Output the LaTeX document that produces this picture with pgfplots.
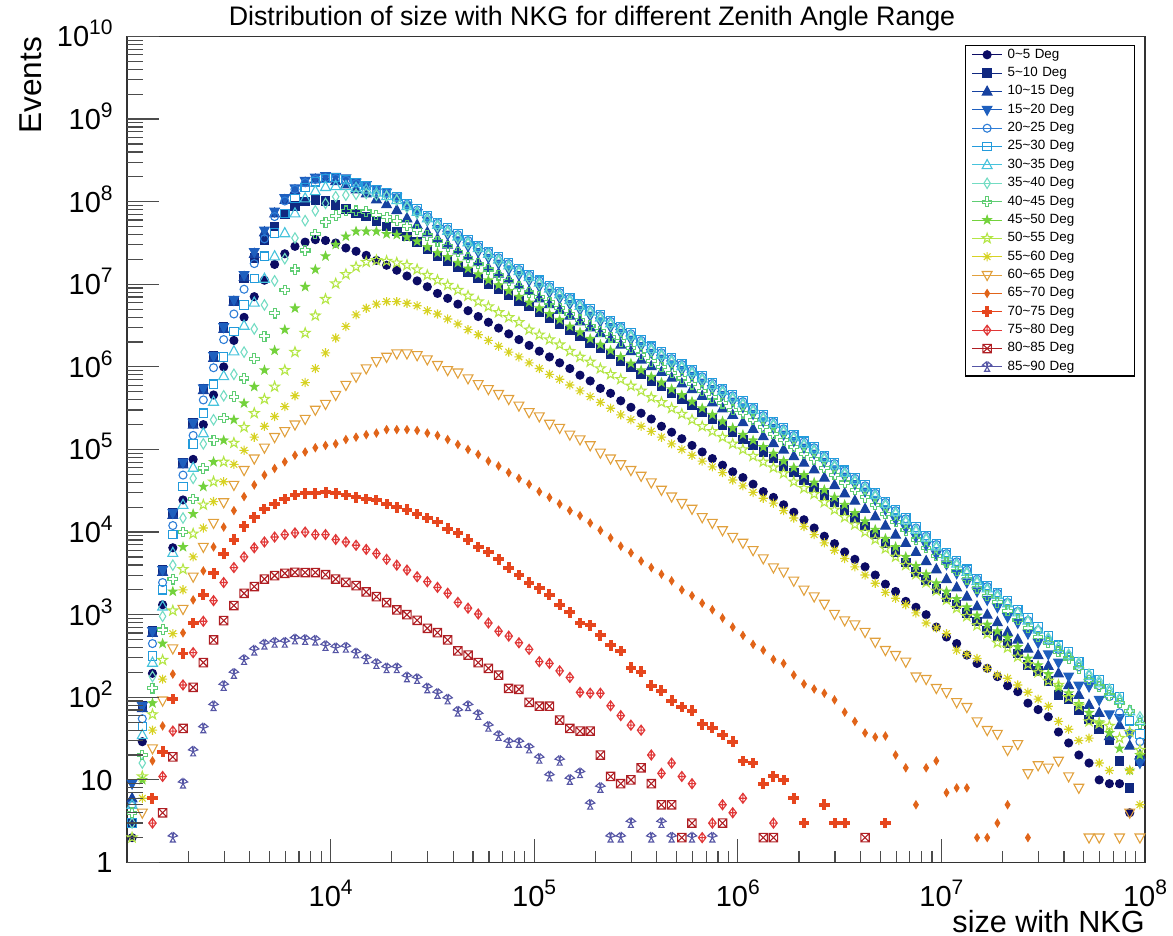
\documentclass[border=0pt]{standalone}
\usepackage{fontspec}
\setmainfont{Liberation Sans}
\usepackage{pgfplots}
\usepackage{pgfplotstable}
\pgfplotsset{compat=1.18}

\definecolor{c1}{RGB}{12,12,100}
\definecolor{c2}{RGB}{16,40,128}
\definecolor{c3}{RGB}{22,65,160}
\definecolor{c4}{RGB}{30,95,190}
\definecolor{c5}{RGB}{45,125,215}
\definecolor{c6}{RGB}{35,155,220}
\definecolor{c7}{RGB}{70,195,220}
\definecolor{c8}{RGB}{115,220,195}
\definecolor{c9}{RGB}{95,205,115}
\definecolor{c10}{RGB}{115,210,60}
\definecolor{c11}{RGB}{180,230,70}
\definecolor{c12}{RGB}{215,210,35}
\definecolor{c13}{RGB}{225,160,60}
\definecolor{c14}{RGB}{225,100,25}
\definecolor{c15}{RGB}{230,70,30}
\definecolor{c16}{RGB}{225,55,55}
\definecolor{c17}{RGB}{175,30,35}
\definecolor{c18}{RGB}{85,85,165}

\def\mk#1#2{\pgfqpoint{#1\pgfplotmarksize}{#2\pgfplotmarksize}}
\pgfdeclareplotmark{rtri}{\pgfpathmoveto{\mk{0}{1.05}}\pgfpathlineto{\mk{0.95}{-0.7}}\pgfpathlineto{\mk{-0.95}{-0.7}}\pgfpathclose\pgfusepathqstroke}
\pgfdeclareplotmark{rtri*}{\pgfpathmoveto{\mk{0}{1.05}}\pgfpathlineto{\mk{0.95}{-0.7}}\pgfpathlineto{\mk{-0.95}{-0.7}}\pgfpathclose\pgfusepathqfillstroke}
\pgfdeclareplotmark{rtrid}{\pgfpathmoveto{\mk{0}{-1.05}}\pgfpathlineto{\mk{0.95}{0.7}}\pgfpathlineto{\mk{-0.95}{0.7}}\pgfpathclose\pgfusepathqstroke}
\pgfdeclareplotmark{rtrid*}{\pgfpathmoveto{\mk{0}{-1.05}}\pgfpathlineto{\mk{0.95}{0.7}}\pgfpathlineto{\mk{-0.95}{0.7}}\pgfpathclose\pgfusepathqfillstroke}
\pgfdeclareplotmark{rdiam}{\pgfpathmoveto{\mk{0}{1}}\pgfpathlineto{\mk{0.62}{0}}\pgfpathlineto{\mk{0}{-1}}\pgfpathlineto{\mk{-0.62}{0}}\pgfpathclose\pgfusepathqstroke}
\pgfdeclareplotmark{rdiam*}{\pgfpathmoveto{\mk{0}{1}}\pgfpathlineto{\mk{0.62}{0}}\pgfpathlineto{\mk{0}{-1}}\pgfpathlineto{\mk{-0.62}{0}}\pgfpathclose\pgfusepathqfillstroke}
\pgfdeclareplotmark{ocross}{\pgfpathmoveto{\mk{-0.32}{1}}\pgfpathlineto{\mk{0.32}{1}}\pgfpathlineto{\mk{0.32}{0.32}}\pgfpathlineto{\mk{1}{0.32}}\pgfpathlineto{\mk{1}{-0.32}}\pgfpathlineto{\mk{0.32}{-0.32}}\pgfpathlineto{\mk{0.32}{-1}}\pgfpathlineto{\mk{-0.32}{-1}}\pgfpathlineto{\mk{-0.32}{-0.32}}\pgfpathlineto{\mk{-1}{-0.32}}\pgfpathlineto{\mk{-1}{0.32}}\pgfpathlineto{\mk{-0.32}{0.32}}\pgfpathclose\pgfusepathqstroke}
\pgfdeclareplotmark{fcross}{\pgfpathmoveto{\mk{-0.3}{1}}\pgfpathlineto{\mk{0.3}{1}}\pgfpathlineto{\mk{0.3}{0.3}}\pgfpathlineto{\mk{1}{0.3}}\pgfpathlineto{\mk{1}{-0.3}}\pgfpathlineto{\mk{0.3}{-0.3}}\pgfpathlineto{\mk{0.3}{-1}}\pgfpathlineto{\mk{-0.3}{-1}}\pgfpathlineto{\mk{-0.3}{-0.3}}\pgfpathlineto{\mk{-1}{-0.3}}\pgfpathlineto{\mk{-1}{0.3}}\pgfpathlineto{\mk{-0.3}{0.3}}\pgfpathclose\pgfusepathqfillstroke}
\pgfdeclareplotmark{ostar}{\pgfpathmoveto{\mk{0}{1}}\pgfpathlineto{\mk{-0.235}{0.324}}\pgfpathlineto{\mk{-0.951}{0.309}}\pgfpathlineto{\mk{-0.38}{-0.124}}\pgfpathlineto{\mk{-0.588}{-0.809}}\pgfpathlineto{\mk{0}{-0.4}}\pgfpathlineto{\mk{0.588}{-0.809}}\pgfpathlineto{\mk{0.38}{-0.124}}\pgfpathlineto{\mk{0.951}{0.309}}\pgfpathlineto{\mk{0.235}{0.324}}\pgfpathclose\pgfusepathqstroke}
\pgfdeclareplotmark{fstar}{\pgfpathmoveto{\mk{0}{1}}\pgfpathlineto{\mk{-0.235}{0.324}}\pgfpathlineto{\mk{-0.951}{0.309}}\pgfpathlineto{\mk{-0.38}{-0.124}}\pgfpathlineto{\mk{-0.588}{-0.809}}\pgfpathlineto{\mk{0}{-0.4}}\pgfpathlineto{\mk{0.588}{-0.809}}\pgfpathlineto{\mk{0.38}{-0.124}}\pgfpathlineto{\mk{0.951}{0.309}}\pgfpathlineto{\mk{0.235}{0.324}}\pgfpathclose\pgfusepathqfillstroke}
\pgfdeclareplotmark{rast}{\pgfpathmoveto{\mk{-1}{0}}\pgfpathlineto{\mk{1}{0}}\pgfpathmoveto{\mk{0}{-1}}\pgfpathlineto{\mk{0}{1}}\pgfpathmoveto{\mk{-0.72}{-0.72}}\pgfpathlineto{\mk{0.72}{0.72}}\pgfpathmoveto{\mk{-0.72}{0.72}}\pgfpathlineto{\mk{0.72}{-0.72}}\pgfusepathqstroke}
\pgfdeclareplotmark{diamplus}{\pgfpathmoveto{\mk{0}{1}}\pgfpathlineto{\mk{0.75}{0}}\pgfpathlineto{\mk{0}{-1}}\pgfpathlineto{\mk{-0.75}{0}}\pgfpathclose\pgfpathmoveto{\mk{0}{1}}\pgfpathlineto{\mk{0}{-1}}\pgfpathmoveto{\mk{-0.75}{0}}\pgfpathlineto{\mk{0.75}{0}}\pgfusepathqstroke}
\pgfdeclareplotmark{sqx}{\pgfpathmoveto{\mk{-1}{-1}}\pgfpathlineto{\mk{1}{-1}}\pgfpathlineto{\mk{1}{1}}\pgfpathlineto{\mk{-1}{1}}\pgfpathclose\pgfpathmoveto{\mk{-1}{-1}}\pgfpathlineto{\mk{1}{1}}\pgfpathmoveto{\mk{-1}{1}}\pgfpathlineto{\mk{1}{-1}}\pgfusepathqstroke}
\pgfdeclareplotmark{tritri}{\pgfpathmoveto{\mk{0}{0}}\pgfpathlineto{\mk{-0.174}{0.985}}\pgfpathlineto{\mk{-0.94}{0.342}}\pgfpathclose\pgfpathmoveto{\mk{0}{0}}\pgfpathlineto{\mk{0.94}{0.342}}\pgfpathlineto{\mk{0.174}{0.985}}\pgfpathclose\pgfpathmoveto{\mk{0}{0}}\pgfpathlineto{\mk{-0.5}{-0.866}}\pgfpathlineto{\mk{0.5}{-0.866}}\pgfpathclose\pgfusepathqstroke}

\pgfplotsset{rm/.style n args={3}{only marks, color=#1, mark=#2, mark size=#3, mark options={solid, line width=0.55pt, fill=#1}}}
\newcommand{\tx}[1]{10\raisebox{0.41em}{\fontsize{10.5}{11}\selectfont #1}}

\pgfplotstableread{
x s1 s2 s3 s4 s5 s6 s7 s8 s9 s10 s11 s12 s13 s14 s15 s16 s17 s18
1059 2 3 6 9 5 3 5 3 4 nan 2 nan nan nan nan nan nan nan
1189 29 78 74 78 55 44 35 16 20 10 11 6 4 nan nan nan nan nan
1334 195 631 603 631 447 316 263 178 129 85 62 40 24 17 6 3 nan nan
1496 1320 3470 3310 3470 2450 2000 1260 955 661 447 282 166 91 45 22 11 4 nan
1679 6460 1.70e4 1.62e4 1.70e4 1.20e4 9330 5620 3980 2690 1910 1120 589 389 191 95 39 19 2
1884 2.45e4 6.92e4 6.61e4 6.92e4 4.90e4 3.55e4 2.14e4 1.48e4 1.00e4 6610 3550 2000 1170 603 339 141 42 9
2113 7.59e4 2.09e5 2.00e5 2.09e5 1.48e5 1.17e5 6.03e4 4.47e4 2.51e4 1.66e4 9550 5010 2880 1510 794 347 132 22
2371 2.00e5 5.50e5 5.25e5 5.50e5 3.98e5 2.75e5 1.58e5 1.17e5 5.89e4 3.55e4 2.14e4 1.12e4 6610 3390 1740 832 263 42
2661 4.57e5 1.35e6 1.29e6 1.35e6 9.77e5 6.17e5 3.80e5 2.29e5 1.29e5 7.08e4 4.07e4 2.34e4 1.29e4 6610 3160 1480 494 78
2985 1.00e6 3.02e6 2.88e6 3.02e6 2.14e6 1.32e6 7.76e5 4.47e5 2.40e5 1.29e5 7.08e4 4.07e4 2.29e4 1.15e4 5500 2450 847 137
3350 2.09e6 6.17e6 6.17e6 6.46e6 4.37e6 2.69e6 1.55e6 8.13e5 4.37e5 2.29e5 1.20e5 6.61e4 3.72e4 1.82e4 8130 3720 1290 192
3758 3.98e6 1.17e7 1.23e7 1.29e7 8.71e6 5.62e6 3.16e6 1.51e6 7.24e5 3.63e5 1.86e5 9.77e4 5.62e4 2.69e4 1.17e4 5010 1816 282
4217 7.08e6 2.09e7 2.34e7 2.45e7 1.78e7 1.17e7 6.03e6 2.88e6 1.26e6 5.75e5 2.75e5 1.41e5 7.76e4 3.72e4 1.51e4 6460 2190 367
4732 1.12e7 3.39e7 4.27e7 4.47e7 3.55e7 2.19e7 1.17e7 5.62e6 2.34e6 9.12e5 4.07e5 1.91e5 1.05e5 4.90e4 1.91e4 7590 2700 434
5309 1.74e7 5.01e7 7.24e7 7.59e7 6.61e7 4.17e7 2.19e7 1.10e7 4.47e6 1.58e6 5.75e5 2.51e5 1.41e5 5.89e4 2.19e4 8710 2970 457
5957 2.34e7 7.08e7 1.05e8 1.10e8 1.02e8 7.24e7 4.17e7 2.04e7 8.51e6 2.82e6 9.12e5 3.31e5 1.66e5 7.08e4 2.51e4 9330 3170 457
6683 2.88e7 8.91e7 1.38e8 1.45e8 1.41e8 1.10e8 7.24e7 3.63e7 1.51e7 5.13e6 1.51e6 4.47e5 2.00e5 8.51e4 2.82e4 9770 3260 501
7499 3.24e7 1.00e8 1.70e8 1.78e8 1.70e8 1.48e8 1.10e8 5.89e7 2.57e7 9.33e6 2.57e6 6.46e5 2.34e5 9.33e4 2.95e4 1.00e4 3240 494
8414 3.47e7 1.05e8 1.86e8 1.95e8 1.86e8 1.74e8 1.35e8 7.76e7 4.07e7 1.51e7 4.17e6 9.55e5 3.02e5 1.05e5 2.95e4 9330 3240 485
9441 3.39e7 1.02e8 1.91e8 2.04e8 1.95e8 1.91e8 1.51e8 9.55e7 5.62e7 2.19e7 6.61e6 1.48e6 3.55e5 1.12e5 3.02e4 9330 3050 417
10593 3.16e7 9.12e7 1.78e8 2.00e8 1.91e8 1.95e8 1.55e8 1.15e8 6.76e7 3.02e7 1.02e7 2.24e6 4.57e5 1.17e5 2.95e4 8130 2700 392
11885 2.75e7 8.13e7 1.62e8 1.91e8 1.82e8 1.86e8 1.55e8 1.20e8 7.76e7 3.80e7 1.32e7 3.09e6 6.03e5 1.32e5 2.82e4 7590 2470 398
13335 2.51e7 7.24e7 1.41e8 1.70e8 1.66e8 1.70e8 1.48e8 1.23e8 7.76e7 4.37e7 1.62e7 4.27e6 7.59e5 1.41e5 2.63e4 6920 2250 339
14962 2.24e7 6.61e7 1.26e8 1.58e8 1.55e8 1.58e8 1.41e8 1.26e8 7.59e7 4.37e7 1.86e7 5.13e6 9.55e5 1.51e5 2.51e4 6170 1885 288
16788 1.95e7 5.75e7 1.07e8 1.41e8 1.38e8 1.41e8 1.29e8 1.20e8 6.92e7 4.37e7 1.95e7 5.75e6 1.17e6 1.58e5 2.45e4 5500 1655 253
18836 1.70e7 5.01e7 9.33e7 1.29e8 1.26e8 1.29e8 1.17e8 1.17e8 6.46e7 4.07e7 1.91e7 6.17e6 1.32e6 1.74e5 2.19e4 4680 1400 224
21135 1.48e7 4.37e7 7.94e7 1.12e8 1.12e8 1.15e8 1.05e8 1.05e8 5.89e7 3.98e7 1.82e7 6.17e6 1.45e6 1.74e5 2.00e4 3980 1140 224
23714 1.26e7 3.80e7 6.31e7 8.91e7 9.33e7 9.55e7 8.91e7 8.51e7 5.13e7 3.72e7 1.70e7 5.89e6 1.45e6 1.74e5 1.86e4 3470 1000 174
26607 1.10e7 3.24e7 5.25e7 7.24e7 7.94e7 8.13e7 7.59e7 7.24e7 4.57e7 3.31e7 1.51e7 5.50e6 1.38e6 1.70e5 1.66e4 2880 855 166
29854 9.33e6 2.63e7 4.27e7 5.89e7 6.61e7 6.76e7 6.31e7 6.03e7 3.89e7 2.82e7 1.29e7 4.79e6 1.23e6 1.58e5 1.48e4 2510 684 128
33497 7.76e6 2.19e7 3.55e7 4.68e7 5.50e7 5.62e7 5.25e7 5.01e7 3.31e7 2.40e7 1.12e7 4.37e6 1.05e6 1.48e5 1.32e4 2140 606 110
37584 6.76e6 1.91e7 3.02e7 3.98e7 4.68e7 4.79e7 4.47e7 4.27e7 2.88e7 2.14e7 9.77e6 3.80e6 9.12e5 1.32e5 1.10e4 1820 494 94
42170 5.75e6 1.62e7 2.57e7 3.39e7 3.98e7 4.07e7 3.80e7 3.63e7 2.45e7 1.82e7 8.51e6 3.31e6 8.51e5 1.15e5 9770 1410 364 67
47315 4.79e6 1.38e7 2.19e7 2.88e7 3.39e7 3.47e7 3.24e7 3.09e7 2.09e7 1.55e7 7.24e6 2.82e6 7.24e5 1.00e5 8130 1200 325 78
53088 4.07e6 1.17e7 1.86e7 2.45e7 2.88e7 2.95e7 2.75e7 2.63e7 1.78e7 1.32e7 6.17e6 2.45e6 6.17e5 8.71e4 6610 1020 263 61
59566 3.47e6 1.00e7 1.58e7 2.09e7 2.45e7 2.51e7 2.34e7 2.24e7 1.51e7 1.12e7 5.37e6 2.09e6 5.37e5 7.24e4 5750 794 224 44
66834 2.95e6 8.71e6 1.35e7 1.78e7 2.09e7 2.14e7 2.00e7 1.91e7 1.29e7 9.77e6 4.57e6 1.78e6 4.68e5 6.31e4 4680 631 185 34
74989 2.51e6 7.41e6 1.15e7 1.51e7 1.78e7 1.82e7 1.70e7 1.62e7 1.10e7 8.32e6 3.98e6 1.51e6 4.07e5 5.25e4 3720 550 128 28
84140 2.14e6 6.31e6 9.77e6 1.29e7 1.51e7 1.55e7 1.45e7 1.38e7 9.33e6 7.08e6 3.47e6 1.32e6 3.39e5 4.47e4 3020 457 125 28
94406 1.82e6 5.37e6 8.32e6 1.10e7 1.29e7 1.32e7 1.23e7 1.17e7 7.94e6 6.03e6 2.82e6 1.12e6 2.82e5 3.80e4 2450 380 87 24
1.0593e5 1.55e6 4.57e6 6.76e6 9.33e6 1.10e7 1.12e7 1.05e7 1.00e7 7.08e6 5.13e6 2.45e6 9.55e5 2.51e5 3.09e4 2090 270 78 18
1.1885e5 1.32e6 3.89e6 5.75e6 7.94e6 9.33e6 9.55e6 8.91e6 8.51e6 6.03e6 4.37e6 2.14e6 8.13e5 2.04e5 2.63e4 1740 257 78 11
1.3335e5 1.12e6 3.31e6 4.90e6 6.76e6 7.94e6 8.13e6 7.59e6 7.24e6 5.13e6 3.72e6 1.86e6 7.08e5 1.82e5 2.19e4 1320 209 53 17
1.4962e5 9.55e5 2.75e6 4.17e6 5.75e6 6.76e6 6.92e6 6.46e6 6.17e6 4.37e6 3.09e6 1.55e6 6.03e5 1.51e5 1.82e4 1070 174 42 10
1.6788e5 7.94e5 2.34e6 3.55e6 4.90e6 5.75e6 5.89e6 5.50e6 5.25e6 3.72e6 2.63e6 1.32e6 5.13e5 1.32e5 1.58e4 794 115 39 12
1.8836e5 6.76e5 1.95e6 3.02e6 4.17e6 4.90e6 5.01e6 4.68e6 4.47e6 3.16e6 2.19e6 1.15e6 4.37e5 1.12e5 1.29e4 741 112 39 5
2.1135e5 5.50e5 1.66e6 2.57e6 3.55e6 4.17e6 4.27e6 3.98e6 3.80e6 2.69e6 1.86e6 9.55e5 3.72e5 9.12e4 1.05e4 562 112 20 8
2.3714e5 4.79e5 1.41e6 2.19e6 3.02e6 3.55e6 3.63e6 3.39e6 3.24e6 2.29e6 1.58e6 8.13e5 3.16e5 7.76e4 8510 427 79 11 2
2.6607e5 3.89e5 1.17e6 1.86e6 2.57e6 3.02e6 3.09e6 2.88e6 2.75e6 2.04e6 1.32e6 7.08e5 2.63e5 6.61e4 6760 363 60 9 2
2.9854e5 3.24e5 9.77e5 1.55e6 2.14e6 2.51e6 2.57e6 2.40e6 2.29e6 1.70e6 1.10e6 5.89e5 2.29e5 5.62e4 5620 229 46 10 3
3.3497e5 2.75e5 8.13e5 1.23e6 1.78e6 2.09e6 2.14e6 2.00e6 1.91e6 1.41e6 9.12e5 5.13e5 1.91e5 4.79e4 4470 204 40 14 nan
3.7584e5 2.34e5 6.76e5 1.02e6 1.48e6 1.74e6 1.78e6 1.66e6 1.58e6 1.17e6 7.59e5 4.27e5 1.66e5 3.98e4 3720 138 20 9 2
4.2170e5 1.91e5 5.75e5 8.71e5 1.26e6 1.48e6 1.51e6 1.41e6 1.35e6 1.00e6 6.46e5 3.72e5 1.41e5 3.24e4 3090 120 12 5 3
4.7315e5 1.62e5 4.79e5 7.41e5 1.07e6 1.26e6 1.29e6 1.20e6 1.15e6 8.51e5 5.37e5 3.16e5 1.17e5 2.69e4 2570 91 16 5 2
5.3088e5 1.35e5 4.07e5 6.31e5 9.12e5 1.07e6 1.10e6 1.02e6 9.77e5 7.24e5 4.57e5 2.69e5 1.00e5 2.24e4 2000 76 11 2 nan
5.9566e5 1.12e5 3.39e5 5.37e5 7.76e5 9.12e5 9.33e5 8.71e5 8.32e5 6.17e5 3.80e5 2.29e5 8.51e4 1.91e4 1700 69 9 3 2
6.6834e5 9.33e4 2.82e5 4.47e5 6.46e5 7.59e5 7.76e5 7.24e5 6.92e5 5.13e5 3.16e5 1.91e5 7.24e4 1.51e4 1380 47 2 nan nan
7.4989e5 7.76e4 2.34e5 3.72e5 5.37e5 6.31e5 6.46e5 6.03e5 5.75e5 4.27e5 2.63e5 1.66e5 6.17e4 1.29e4 1150 43 3 nan 2
8.4140e5 6.46e4 1.95e5 3.16e5 4.57e5 5.37e5 5.50e5 5.13e5 4.90e5 3.63e5 2.19e5 1.41e5 5.25e4 1.05e4 912 35 5 3 nan
9.4406e5 5.37e4 1.62e5 2.63e5 3.80e5 4.47e5 4.57e5 4.27e5 4.07e5 3.02e5 1.82e5 1.17e5 4.27e4 8710 708 29 4 nan nan
1.0593e6 4.57e4 1.32e5 2.14e5 3.24e5 3.80e5 3.89e5 3.63e5 3.47e5 2.75e5 1.51e5 1.00e5 3.63e4 7410 562 17 6 nan nan
1.1885e6 3.80e4 1.12e5 1.78e5 2.69e5 3.16e5 3.24e5 3.02e5 2.88e5 2.29e5 1.29e5 8.32e4 3.02e4 6030 437 16 nan nan nan
1.3335e6 3.09e4 9.33e4 1.45e5 2.19e5 2.57e5 2.63e5 2.45e5 2.34e5 1.86e5 1.07e5 7.08e4 2.57e4 4790 372 9 nan 2 nan
1.4962e6 2.63e4 7.76e4 1.20e5 1.82e5 2.14e5 2.19e5 2.04e5 1.95e5 1.55e5 8.91e4 6.03e4 2.24e4 3720 288 11 3 2 nan
1.6788e6 2.14e4 6.31e4 1.00e5 1.51e5 1.78e5 1.82e5 1.70e5 1.62e5 1.29e5 7.24e4 5.13e4 1.82e4 3310 257 10 nan nan nan
1.8836e6 1.74e4 5.25e4 8.32e4 1.26e5 1.48e5 1.51e5 1.41e5 1.35e5 1.07e5 6.03e4 4.07e4 1.48e4 2570 186 6 nan nan nan
2.1135e6 1.41e4 4.27e4 6.92e4 1.05e5 1.23e5 1.26e5 1.17e5 1.12e5 8.91e4 4.90e4 3.39e4 1.17e4 2000 145 3 nan nan nan
2.3714e6 1.12e4 3.47e4 5.75e4 8.91e4 1.05e5 1.07e5 1.00e5 9.55e4 7.59e4 3.98e4 2.88e4 9330 1660 126 nan nan nan nan
2.6607e6 8910 2.82e4 4.57e4 7.08e4 8.32e4 8.51e4 7.94e4 7.59e4 6.03e4 3.24e4 2.29e4 7410 1350 112 5 nan nan nan
2.9854e6 7240 2.29e4 3.72e4 5.75e4 6.76e4 6.92e4 6.46e4 6.17e4 4.90e4 2.63e4 1.86e4 6030 1020 93 3 nan nan nan
3.3497e6 5750 1.86e4 2.95e4 4.68e4 5.50e4 5.62e4 5.25e4 5.01e4 3.98e4 2.14e4 1.51e4 4790 851 66 3 nan nan nan
3.7584e6 4680 1.48e4 2.40e4 3.80e4 4.47e4 4.57e4 4.27e4 4.07e4 3.24e4 1.70e4 1.23e4 3800 759 51 nan nan nan nan
4.2170e6 3800 1.17e4 1.91e4 3.09e4 3.63e4 3.72e4 3.47e4 3.31e4 2.63e4 1.35e4 1.00e4 3020 617 37 nan nan 2 nan
4.7315e6 3020 9330 1.55e4 2.45e4 2.95e4 3.02e4 2.82e4 2.69e4 2.14e4 1.07e4 8130 2400 468 33 nan nan nan nan
5.3088e6 2340 7240 1.20e4 1.86e4 2.29e4 2.34e4 2.19e4 2.09e4 1.66e4 8320 6310 1860 372 34 3 nan nan nan
5.9566e6 1910 5750 9330 1.41e4 1.82e4 1.86e4 1.74e4 1.66e4 1.32e4 6610 5010 1580 324 20 nan nan nan nan
6.6834e6 1450 4270 7410 1.12e4 1.45e4 1.48e4 1.38e4 1.32e4 1.05e4 5010 3980 1320 269 14 nan nan nan nan
7.4989e6 1230 3310 5750 8710 1.12e4 1.15e4 1.07e4 1.02e4 8130 3890 3090 1050 178 5 nan nan nan nan
8.4140e6 1000 2630 4470 6920 8910 9120 8510 8130 6460 3090 2450 794 166 14 nan nan nan nan
9.4406e6 708 2040 3550 5370 7080 7240 6760 6460 5130 2400 1950 692 129 17 nan nan nan nan
1.0593e7 537 1620 2690 4070 5500 5620 5250 5010 4270 1910 1510 589 115 7 nan nan nan nan
1.1885e7 447 1320 2140 3160 4370 4470 4170 3980 3390 1550 1200 372 87 8 nan nan nan nan
1.3335e7 324 1050 1660 2450 3470 3550 3310 3160 2690 1230 955 331 76 8 nan nan nan nan
1.4962e7 257 832 1260 1910 2690 2750 2570 2450 2090 977 741 295 51 2 nan nan nan nan
1.6788e7 224 646 1000 1510 2190 2240 2090 2000 1700 759 589 224 40 2 nan nan nan nan
1.8836e7 178 550 813 1230 1820 1860 1740 1660 1410 631 457 186 36 3 nan nan nan nan
2.1135e7 138 447 617 933 1410 1480 1380 1350 1120 525 398 170 23 5 nan nan nan nan
2.3714e7 117 339 501 794 1100 1150 1070 1050 871 407 309 141 27 nan nan nan nan nan
2.6607e7 85 245 389 589 851 912 851 832 692 295 251 115 12 2 nan nan nan nan
2.9854e7 71 209 324 457 646 708 661 646 537 245 200 95 15 nan nan nan nan nan
3.3497e7 58 158 240 331 490 550 501 525 457 191 158 78 14 nan nan nan nan nan
3.7584e7 38 107 195 263 380 427 398 407 355 132 141 51 17 nan nan nan nan nan
4.2170e7 28 95 141 178 316 355 324 331 295 112 100 41 11 nan nan nan nan nan
4.7315e7 20 69 107 138 234 269 251 263 224 83 79 30 8 nan nan nan nan nan
5.3088e7 16 54 81 135 166 195 182 191 162 65 51 32 2 nan nan nan nan nan
5.9566e7 10 41 65 93 138 162 148 158 135 50 48 16 2 nan nan nan nan nan
6.6834e7 9 30 34 62 102 126 117 126 105 37 45 13 nan nan nan nan nan nan
7.4989e7 9 17 46 56 65 102 93 98 85 24 32 nan 2 nan nan nan nan nan
8.4140e7 4 8 26 36 37 52 68 69 69 13 38 13 4 nan nan nan nan nan
9.4406e7 nan 17 20 16 29 36 52 58 48 20 23 5 2 nan nan nan nan nan
}\data

\begin{document}
\begin{tikzpicture}
\path[use as bounding box] (-63.5pt,-36.75pt) rectangle (523pt,431.25pt);
\begin{loglogaxis}[
  scale only axis, width=509pt, height=413pt,
  xmin=1000, xmax=1e8, ymin=1, ymax=1e10,
  axis line style={black!80, line width=0.8pt},
  tick align=inside, xtick pos=left,
  tick style={black!70, line width=0.6pt},
  major tick length=12pt, minor tick length=6pt,
  xtick={1e4,1e5,1e6,1e7,1e8},
  xticklabels={\tx{4},\tx{5},\tx{6},\tx{7},\tx{8}},
  minor xtick={2000,3000,4000,5000,6000,7000,8000,9000,20000,30000,40000,50000,60000,70000,80000,90000,2e5,3e5,4e5,5e5,6e5,7e5,8e5,9e5,2e6,3e6,4e6,5e6,6e6,7e6,8e6,9e6,2e7,3e7,4e7,5e7,6e7,7e7,8e7,9e7},
  ytick=\empty,
  xticklabel style={font=\fontsize{14.5}{16}\selectfont, anchor=base, yshift=-22pt, inner sep=0pt},
  legend style={at={(rel axis cs:0.8232,0.9897)}, anchor=north west, draw=black, fill=white, line width=0.6pt,
    inner xsep=3pt, inner ysep=0pt, font=\fontsize{6.7}{7}\selectfont,
    nodes={text height=4.8pt, text depth=1.4pt, inner ysep=1.49pt, inner xsep=2.5pt, text width=58pt, align=left},
    row sep=0pt, column sep=0pt},
  legend cell align=left,
  legend image code/.code={\draw[#1, line width=0.5pt] (0pt,0pt) -- (15pt,0pt); \draw[#1] plot coordinates {(7.5pt,0pt)};},
]
\addplot[rm={c1}{*}{2.0}] table[x=x,y=s1] {\data}; \addlegendentry{0\textasciitilde5 Deg}
\addplot[rm={c2}{square*}{2.1}] table[x=x,y=s2] {\data}; \addlegendentry{5\textasciitilde10 Deg}
\addplot[rm={c3}{rtri*}{2.5}] table[x=x,y=s3] {\data}; \addlegendentry{10\textasciitilde15 Deg}
\addplot[rm={c4}{rtrid*}{2.5}] table[x=x,y=s4] {\data}; \addlegendentry{15\textasciitilde20 Deg}
\addplot[rm={c5}{o}{2.0}] table[x=x,y=s5] {\data}; \addlegendentry{20\textasciitilde25 Deg}
\addplot[rm={c6}{square}{2.1}] table[x=x,y=s6] {\data}; \addlegendentry{25\textasciitilde30 Deg}
\addplot[rm={c7}{rtri}{2.6}] table[x=x,y=s7] {\data}; \addlegendentry{30\textasciitilde35 Deg}
\addplot[rm={c8}{rdiam}{2.6}] table[x=x,y=s8] {\data}; \addlegendentry{35\textasciitilde40 Deg}
\addplot[rm={c9}{ocross}{2.4}] table[x=x,y=s9] {\data}; \addlegendentry{40\textasciitilde45 Deg}
\addplot[rm={c10}{fstar}{2.1}] table[x=x,y=s10] {\data}; \addlegendentry{45\textasciitilde50 Deg}
\addplot[rm={c11}{ostar}{2.6}] table[x=x,y=s11] {\data}; \addlegendentry{50\textasciitilde55 Deg}
\addplot[rm={c12}{rast}{2.3}] table[x=x,y=s12] {\data}; \addlegendentry{55\textasciitilde60 Deg}
\addplot[rm={c13}{rtrid}{2.6}] table[x=x,y=s13] {\data}; \addlegendentry{60\textasciitilde65 Deg}
\addplot[rm={c14}{rdiam*}{1.9}] table[x=x,y=s14] {\data}; \addlegendentry{65\textasciitilde70 Deg}
\addplot[rm={c15}{fcross}{2.4}] table[x=x,y=s15] {\data}; \addlegendentry{70\textasciitilde75 Deg}
\addplot[rm={c16}{diamplus}{2.5}] table[x=x,y=s16] {\data}; \addlegendentry{75\textasciitilde80 Deg}
\addplot[rm={c17}{sqx}{2.1}] table[x=x,y=s17] {\data}; \addlegendentry{80\textasciitilde85 Deg}
\addplot[rm={c18}{tritri}{2.5}] table[x=x,y=s18] {\data}; \addlegendentry{85\textasciitilde90 Deg}
\end{loglogaxis}
\begin{loglogaxis}[
  scale only axis, width=509pt, height=413pt,
  xmin=1000, xmax=1e8, ymin=1, ymax=1e10,
  hide x axis, axis y line*=left, y axis line style={draw=none},
  tick align=inside,
  tick style={black!70, line width=0.6pt},
  major tick length=16pt, minor tick length=8pt,
  ytick={1,10,100,1000,1e4,1e5,1e6,1e7,1e8,1e9,1e10},
  yticklabels={1,10,\tx{2},\tx{3},\tx{4},\tx{5},\tx{6},\tx{7},\tx{8},\tx{9},\tx{10}},
  minor ytick={2,3,4,5,6,7,8,9,20,30,40,50,60,70,80,90,200,300,400,500,600,700,800,900,2e3,3e3,4e3,5e3,6e3,7e3,8e3,9e3,2e4,3e4,4e4,5e4,6e4,7e4,8e4,9e4,2e5,3e5,4e5,5e5,6e5,7e5,8e5,9e5,2e6,3e6,4e6,5e6,6e6,7e6,8e6,9e6,2e7,3e7,4e7,5e7,6e7,7e7,8e7,9e7,2e8,3e8,4e8,5e8,6e8,7e8,8e8,9e8,2e9,3e9,4e9,5e9,6e9,7e9,8e9,9e9},
  yticklabel style={font=\fontsize{14.5}{16}\selectfont, anchor=base east, yshift=-5.2pt, xshift=-7pt, inner sep=0pt},
]
\end{loglogaxis}
\node[anchor=base, inner sep=0pt, font=\fontsize{13.4}{15}\selectfont] at (232.5pt,418.5pt) {Distribution of size with NKG for different Zenith Angle Range};
\node[anchor=base east, inner sep=0pt, font=\fontsize{15.3}{17}\selectfont] at (509pt,-34.9pt) {size with NKG};
\node[rotate=90, anchor=base east, inner sep=0pt, font=\fontsize{15.8}{18}\selectfont] at (-42.5pt,413pt) {Events};
\end{tikzpicture}
\end{document}
